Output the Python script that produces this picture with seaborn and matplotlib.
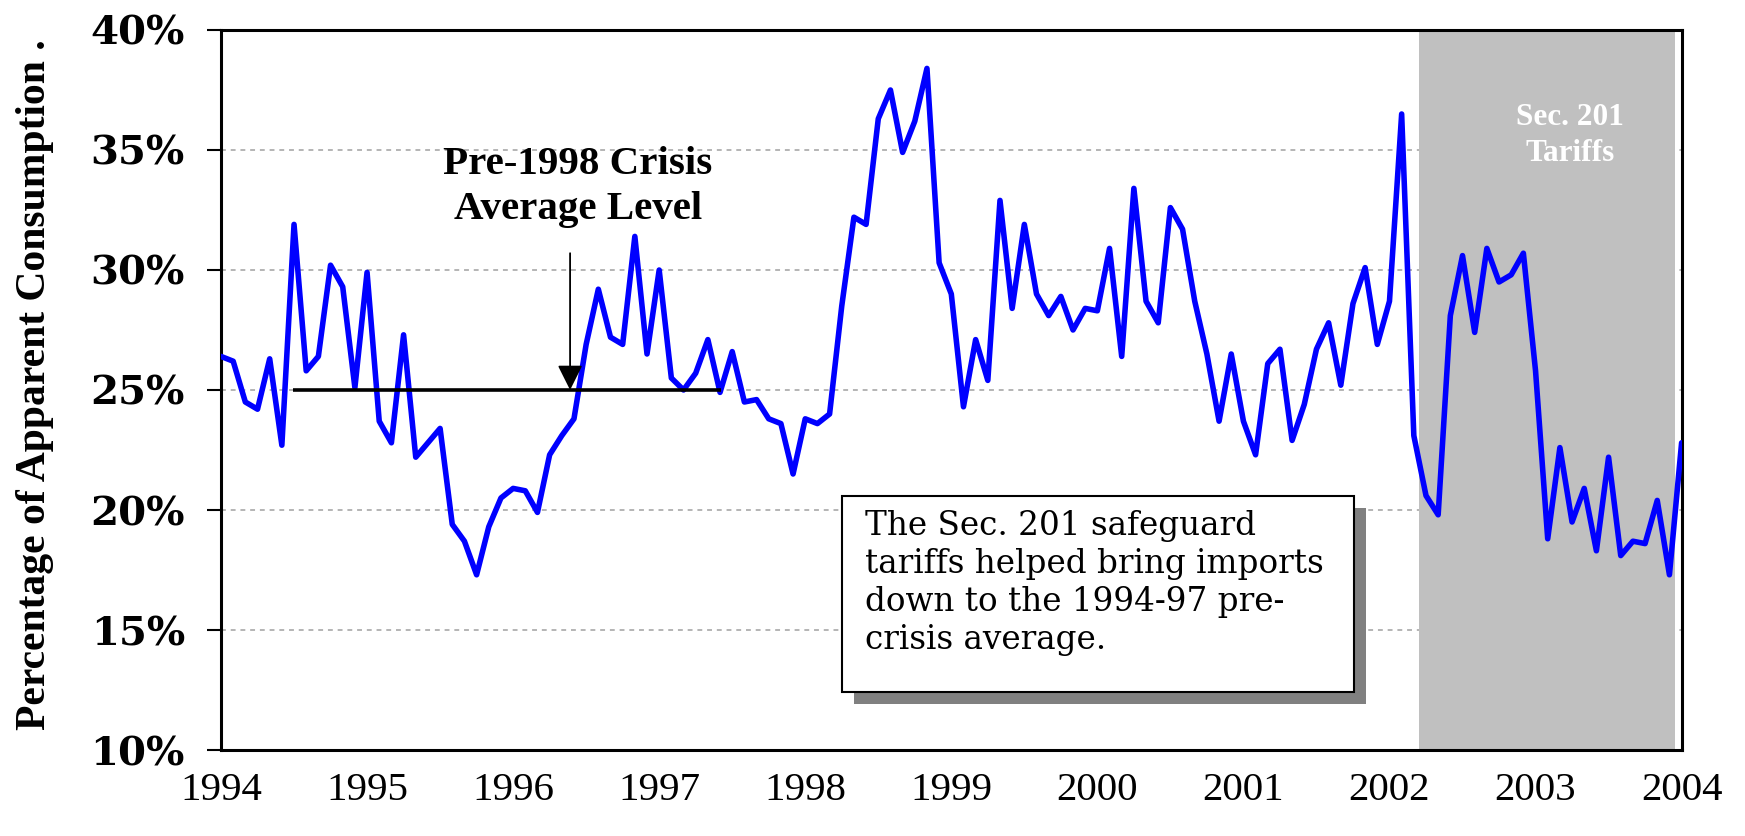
import numpy as np
import pandas as pd
import matplotlib
matplotlib.use("Agg")
import matplotlib.pyplot as plt
from matplotlib.patches import Rectangle
from matplotlib.ticker import PercentFormatter
import seaborn as sns

# ---------------- data ----------------
start_year = 1994
share = [
    26.4, 26.2, 24.5, 24.2, 26.3, 22.7, 31.9, 25.8, 26.4, 30.2, 29.3, 25.1,   # 1994
    29.9, 23.7, 22.8, 27.3, 22.2, 22.8, 23.4, 19.4, 18.7, 17.3, 19.3, 20.5,   # 1995
    20.9, 20.8, 19.9, 22.3, 23.1, 23.8, 26.9, 29.2, 27.2, 26.9, 31.4, 26.5,   # 1996
    30.0, 25.5, 25.0, 25.7, 27.1, 24.9, 26.6, 24.5, 24.6, 23.8, 23.6, 21.5,   # 1997
    23.8, 23.6, 24.0, 28.5, 32.2, 31.9, 36.3, 37.5, 34.9, 36.2, 38.4, 30.3,   # 1998
    29.0, 24.3, 27.1, 25.4, 32.9, 28.4, 31.9, 29.0, 28.1, 28.9, 27.5, 28.4,   # 1999
    28.3, 30.9, 26.4, 33.4, 28.7, 27.8, 32.6, 31.7, 28.7, 26.5, 23.7, 26.5,   # 2000
    23.7, 22.3, 26.1, 26.7, 22.9, 24.4, 26.7, 27.8, 25.2, 28.6, 30.1, 26.9,   # 2001
    28.7, 36.5, 23.1, 20.6, 19.8, 28.1, 30.6, 27.4, 30.9, 29.5, 29.8, 30.7,   # 2002
    25.8, 18.8, 22.6, 19.5, 20.9, 18.3, 22.2, 18.1, 18.7, 18.6, 20.4, 17.3,   # 2003
    22.8,                                                                      # 2004
]
year_ticks = [1994, 1995, 1996, 1997, 1998, 1999, 2000, 2001, 2002, 2003, 2004]
pct_ticks = [10, 15, 20, 25, 30, 35, 40]

avg_level = 25.0
avg_span = [1994.49, 1997.42]
arrow_x = 1996.39
arrow_top = 30.7
tariff_span = [2002.2, 2003.955]

ylabel_text = "Percentage of Apparent Consumption ."
crisis_text = "Pre-1998 Crisis\nAverage Level"
tariff_text = "Sec. 201\nTariffs"
box_text = ("The Sec. 201 safeguard\ntariffs helped bring imports\n"
            "down to the 1994-97 pre-\ncrisis average.")

df = pd.DataFrame({
    "year": start_year + np.arange(len(share)) / 12.0,
    "share": share,
})

# ---------------- style ----------------
sns.set_theme(style="white")
plt.rcParams["font.family"] = ["DejaVu Serif"]
plt.rcParams["text.color"] = "black"
plt.rcParams["axes.labelcolor"] = "black"
plt.rcParams["xtick.color"] = "black"
plt.rcParams["ytick.color"] = "black"

fig = plt.figure(figsize=(17.45, 8.36), dpi=100)
ax = fig.add_axes([221 / 1745, 1 - 750 / 836, 1460.6 / 1745, 720 / 836])
ax.set_axisbelow(True)

# shaded tariff period
ax.axvspan(tariff_span[0], tariff_span[1], color="#C0C0C0", lw=0, zorder=1)

# main series
sns.lineplot(data=df, x="year", y="share", color="#0000FF", linewidth=4.0,
             ax=ax, zorder=4)
for ln in ax.lines:
    ln.set_solid_joinstyle("round")
    ln.set_solid_capstyle("round")

# pre-crisis average line + arrow
ax.hlines(avg_level, avg_span[0], avg_span[1], color="black", lw=2.6, zorder=5)
ax.annotate("", xy=(arrow_x, avg_level), xytext=(arrow_x, arrow_top),
            arrowprops=dict(arrowstyle="-|>,head_length=0.7,head_width=0.35",
                            mutation_scale=22, color="black", lw=1.3,
                            shrinkA=0, shrinkB=0),
            zorder=6)
ax.text(1996.443, 33.45, crisis_text, ha="center", va="center",
        fontsize=29.5, fontweight="bold", family="Liberation Serif",
        color="black", linespacing=1.28, zorder=6)

# tariff label
ax.text(2003.235, 35.6, tariff_text, ha="center", va="center",
        fontsize=22.5, fontweight="bold", family="Liberation Serif",
        color="white", linespacing=1.3, zorder=6)

# annotation box with shadow
bx, by, bw, bh = 1998.25, 12.42, 3.505, 8.16
ax.add_patch(Rectangle((bx + 0.082, by - 0.5), bw, bh, facecolor="#808080",
                       edgecolor="none", zorder=6))
ax.add_patch(Rectangle((bx, by), bw, bh, facecolor="white",
                       edgecolor="black", lw=1.5, zorder=7))
ax.text(1998.41, 16.95, box_text, ha="left", va="center", fontsize=23.5,
        family="DejaVu Serif", color="black", linespacing=1.24, zorder=8)

# axes
ax.set_xlim(1994, 2004)
ax.set_ylim(10, 40)
ax.set_xticks(year_ticks)
ax.set_yticks(pct_ticks)
ax.yaxis.set_major_formatter(PercentFormatter(xmax=100, decimals=0))
ax.set_xlabel("")
ax.yaxis.grid(True, color="#B4B4B4", linestyle=(0, (2.5, 2.5)), lw=1.4)
ax.xaxis.grid(False)

for s in ax.spines.values():
    s.set_visible(True)
    s.set_color("black")
    s.set_linewidth(2.2)

ax.tick_params(axis="x", direction="inout", length=18, width=1.5,
               colors="black", pad=7, labelsize=29.5,
               labelfontfamily="Liberation Serif")
ax.tick_params(axis="y", direction="out", length=10, width=1.5,
               colors="black", pad=16, labelsize=29,
               labelfontfamily="DejaVu Serif", left=True, right=False)
for lbl in ax.get_yticklabels():
    lbl.set_fontweight("bold")

ax.set_ylabel(ylabel_text, fontsize=30, fontweight="bold",
              family="Liberation Serif", color="black")
ax.yaxis.set_label_coords(-0.1145, 0.508)

fig.savefig("out.png", dpi=100, facecolor="white")
